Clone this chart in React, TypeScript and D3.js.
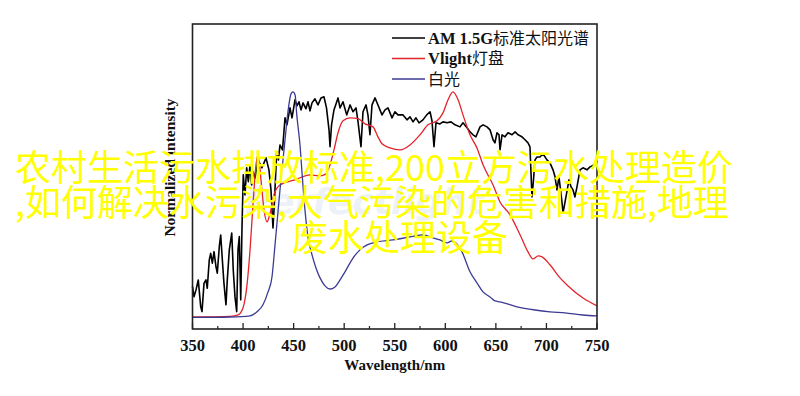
import React from "react";
import * as d3 from "d3";

// ---- data (wavelength nm, normalized intensity) ----
const amWavelength = [350,351.5,353.5,355.7,358.1,359.4,361.4,363.3,364.6,366.6,368,369.6,371.3,373.2,374.5,376.5,377.9,379.5,381.1,383.1,384.4,386.4,388.8,390.3,392,393.7,395,396.3,397.7,398.9,400.2,401.9,403.6,405.2,406.9,408.5,410.1,411.8,414.8,418.7,422.7,425.6,427.6,429.6,431.1,433.3,435,436.5,439,441.5,443.4,446.4,448.4,451.4,453.3,455.3,457.3,459.3,462.2,464.2,466.2,468.2,471.1,474.1,477.1,480,482.5,485,486,487.5,489.9,493.9,495.9,498.8,502.5,505.8,508.7,511.7,513.7,516.6,518.6,521.6,523.5,525.5,527.5,530.5,533.4,537.4,540.4,543.3,547.3,550.2,553.2,558.2,562.1,565.1,568.1,571,574,577.9,581.6,584.9,586.8,588.8,590.8,594.7,597.7,601.7,605.6,609.6,614.5,617.5,621.5,624.4,627.4,630.3,634.3,637.3,641.2,644.2,647.2,649.1,651.1,653.1,654.1,656.1,659,662,666,669,671.9,675.8,678.8,681.8,683.7,685.7,687.2,688.7,690.7,693.6,696.6,700.5,703.5,706.5,708.5,710.4,712.4,715.1,716.4,719.3,722.3,724.3,726.3,728.2,730.2,733.2,736.1,740.1,743.1,747,750];
const amIntensity = [0.14,0.094,0.124,0.168,0.05,0.028,0.154,0.168,0.131,0.257,0.286,0.242,0.293,0.227,0.198,0.315,0.367,0.257,0.154,0.058,0.168,0.301,0.375,0.212,0.094,0.028,0.301,0.36,0.08,0.389,0.633,0.544,0.664,0.603,0.677,0.588,0.647,0.619,0.699,0.664,0.708,0.655,0.566,0.398,0.522,0.735,0.699,0.765,0.743,0.885,0.854,0.929,0.885,0.965,0.938,0.956,0.92,0.951,0.925,0.956,0.916,0.951,0.969,0.942,0.973,0.978,0.929,0.832,0.757,0.854,0.92,0.973,0.929,0.956,0.898,0.942,0.912,0.929,0.867,0.757,0.912,0.942,0.898,0.81,0.942,0.973,0.942,0.898,0.92,0.929,0.885,0.912,0.898,0.898,0.876,0.889,0.867,0.885,0.863,0.876,0.898,0.912,0.872,0.757,0.863,0.858,0.867,0.863,0.867,0.854,0.845,0.863,0.841,0.823,0.81,0.801,0.845,0.854,0.845,0.832,0.788,0.774,0.819,0.81,0.743,0.81,0.801,0.819,0.81,0.823,0.81,0.801,0.788,0.774,0.757,0.535,0.611,0.699,0.712,0.712,0.726,0.699,0.686,0.655,0.624,0.566,0.624,0.522,0.465,0.535,0.611,0.58,0.566,0.535,0.58,0.655,0.664,0.655,0.668,0.677,0.673];

const vlightWavelength = [350,387.1,395,399.9,403.9,406.9,409.8,412.8,414.9,417.7,420.7,423.7,426.6,430.6,436.5,451.4,466.2,476.1,482,486,489.9,493.9,498.8,505.8,513.7,520.6,528.5,533.4,537.4,545.3,555.2,565.1,575,582.9,591.8,597.7,602.7,607.6,612.6,617.5,624.4,631.3,637.3,647.2,654.1,664,673.9,681.8,686.7,691.7,695.6,703.5,713.4,720.3,736.2,750];
const vlightIntensity = [0.004,0.007,0.013,0.044,0.146,0.301,0.5,0.677,0.721,0.611,0.478,0.425,0.46,0.546,0.588,0.611,0.633,0.628,0.637,0.677,0.743,0.819,0.872,0.885,0.881,0.858,0.845,0.801,0.77,0.752,0.743,0.765,0.81,0.854,0.872,0.907,0.965,1.0,0.965,0.898,0.81,0.752,0.677,0.588,0.513,0.456,0.368,0.292,0.261,0.274,0.27,0.235,0.177,0.146,0.088,0.053];

const whiteWavelength = [350,387.1,406.9,413.8,419.7,424.7,428.6,431.6,436.5,441.5,444.4,447.4,449.4,451.4,453.3,456.3,458.3,461.2,464.2,468.2,472.1,476.1,481,486,490.9,495.9,500.8,508.7,515.6,522.6,532.4,548.3,565.1,577.9,587.8,594.7,601.7,606.6,610.6,616.5,624.4,631.3,637.3,644.2,649.1,654.1,670.9,688.7,703.5,718.4,736.1,750];
const whiteIntensity = [0.002,0.004,0.009,0.027,0.058,0.115,0.181,0.323,0.566,0.788,0.912,0.991,1.0,0.987,0.889,0.765,0.642,0.478,0.358,0.279,0.221,0.177,0.142,0.128,0.137,0.168,0.204,0.265,0.301,0.323,0.336,0.345,0.358,0.367,0.354,0.345,0.332,0.341,0.332,0.292,0.204,0.155,0.115,0.093,0.075,0.071,0.049,0.035,0.027,0.022,0.013,0.009];

const xTicks = [350, 400, 450, 500, 550, 600, 650, 700, 750];
const xMinorTicks = [375, 425, 475, 525, 575, 625, 675, 725];

const seriesNames = ["AM 1.5G", "Vlight", "白光"];
const legendLabels = [
  { latin: "AM 1.5G", cjk: "标准太阳光谱" },
  { latin: "Vlight", cjk: "灯盘" },
  { latin: "", cjk: "白光" },
];
const seriesColors = ["#000000", "#e3242b", "#3c3a92"];

const overlayLines = [
  "农村生活污水排放标准,200立方污水处理造价",
  ",如何解决水污染,大气污染的危害和措施,地理",
  "废水处理设备",
];

const W = 800;
const H = 396;
const margin = { left: 192.5, right: 203, top: 24, bottom: 67 };

export default function App() {
  const x = d3.scaleLinear().domain([350, 750]).range([margin.left, W - margin.right]);
  const y = d3.scaleLinear().domain([-0.049, 1.3]).range([H - margin.bottom, margin.top]);

  const mk = (wl: number[], it: number[]) => wl.map((w, i) => [w, it[i]] as [number, number]);
  const series = [
    { data: mk(amWavelength, amIntensity), curve: d3.curveLinear },
    { data: mk(vlightWavelength, vlightIntensity), curve: d3.curveMonotoneX },
    { data: mk(whiteWavelength, whiteIntensity), curve: d3.curveMonotoneX },
  ];

  const x0 = x(350), x1 = x(750), yb = y(-0.049), yt = y(1.3);
  const serif = "'Times New Roman', 'Liberation Serif', 'DejaVu Serif', serif";
  const cjk = "'Noto Sans CJK SC', sans-serif";

  const legendX0 = 392;
  const legendRows = [38, 58.5, 79];

  return (
    <svg
      width={W}
      height={H}
      viewBox={`0 0 ${W} ${H}`}
      style={{ position: "absolute", left: 0, top: 0, background: "#fff" }}
    >
      <rect x={0} y={0} width={W} height={H} fill="#fff" />
      {/* watermark */}
      <text x={x(520)} y={214} textAnchor="middle" fontFamily="'DejaVu Sans', sans-serif" fontWeight="bold" fontStyle="italic" fontSize={36} fill="#edf2f8">
        Perfectlight
      </text>

      {/* series */}
      {series.map((s, i) => {
        const line = d3
          .line<[number, number]>()
          .x((d) => x(d[0]))
          .y((d) => y(d[1]))
          .curve(s.curve);
        return (
          <path
            key={seriesNames[i]}
            d={line(s.data) || ""}
            fill="none"
            stroke={seriesColors[i]}
            strokeWidth={i === 0 ? 1.6 : 1.3}
            strokeLinejoin="round"
          />
        );
      })}

      {/* frame */}
      <rect x={x0} y={yt} width={x1 - x0} height={yb - yt} fill="none" stroke="#222" strokeWidth={1.6} />

      {/* ticks */}
      {xTicks.map((t) => (
        <g key={"t" + t}>
          <line x1={x(t)} x2={x(t)} y1={yb} y2={yb - 6} stroke="#222" strokeWidth={1.3} />
          <text x={x(t)} y={350.5} textAnchor="middle" fontFamily={serif} fontWeight="bold" fontSize={16.5} fill="#111">
            {t}
          </text>
        </g>
      ))}
      {xMinorTicks.map((t) => (
        <line key={"m" + t} x1={x(t)} x2={x(t)} y1={yb} y2={yb - 3} stroke="#222" strokeWidth={1.2} />
      ))}

      {/* axis titles */}
      <text x={(x0 + x1) / 2} y={370} textAnchor="middle" fontFamily={serif} fontWeight="bold" fontSize={15} fill="#111">
        Wavelength/nm
      </text>
      <text
        transform={`translate(175, ${(93 + 242) / 2}) rotate(-90)`}
        textAnchor="middle"
        fontFamily={serif}
        fontWeight="bold"
        fontSize={15.5}
        fill="#111"
      >
        Normalized intensity
      </text>

      {/* legend */}
      {legendLabels.map((l, i) => (
        <g key={"lg" + i}>
          <line x1={legendX0} x2={legendX0 + 33} y1={legendRows[i]} y2={legendRows[i]} stroke={seriesColors[i]} strokeWidth={1.6} />
          <text x={legendX0 + 36} y={legendRows[i] + 5.5} fontFamily={serif} fontWeight="bold" fontSize={16.5} fill="#111">
            {l.latin}
            <tspan fontFamily={cjk} fontWeight="normal" fontSize={16}>{l.cjk}</tspan>
          </text>
        </g>
      ))}

      {/* overlay text */}
      <g fontFamily={cjk} fontSize={36} fill="#ffff00">
        <text x={15} y={181}>{overlayLines[0]}</text>
        <text x={15} y={216}>{overlayLines[1]}</text>
        <text x={400} y={251} textAnchor="middle">{overlayLines[2]}</text>
      </g>
    </svg>
  );
}
